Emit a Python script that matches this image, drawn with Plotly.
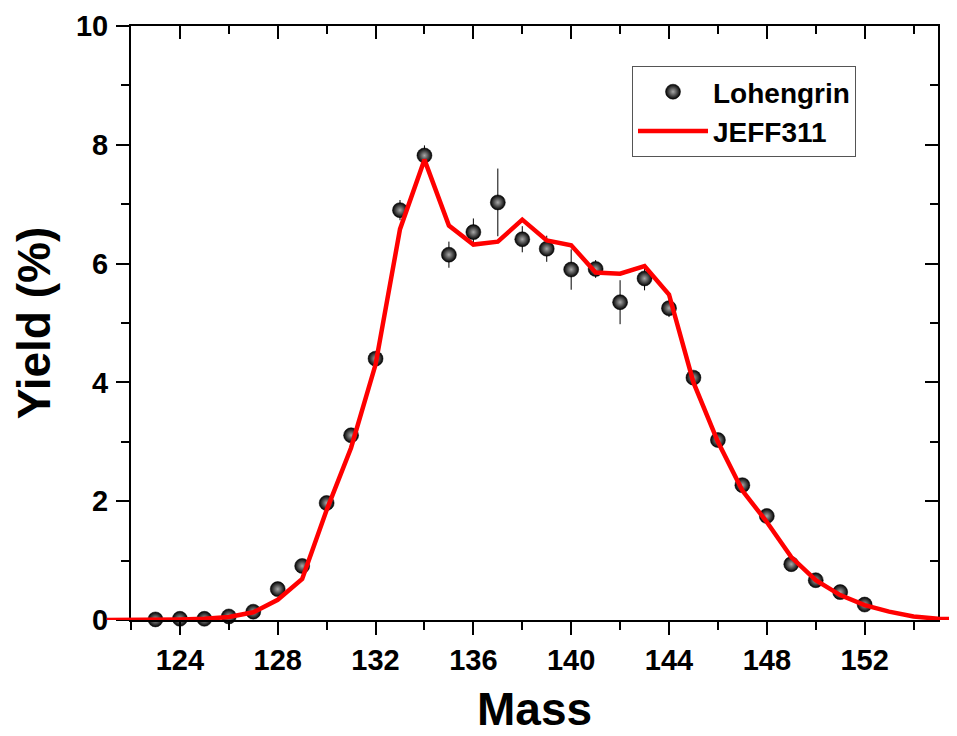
import plotly.graph_objects as go

# Lohengrin measured yields
mass_exp = list(range(123, 153))
yield_exp = [0.01, 0.02, 0.02, 0.06, 0.14, 0.52, 0.91, 1.97, 3.11, 4.40,
             6.90, 7.82, 6.15, 6.53, 7.03, 6.41, 6.25, 5.90, 5.91, 5.35,
             5.75, 5.25, 4.08, 3.03, 2.27, 1.75, 0.94, 0.67, 0.47, 0.26]
err_exp = [0.01, 0.01, 0.01, 0.01, 0.02, 0.05, 0.06, 0.10, 0.10, 0.12,
           0.17, 0.17, 0.22, 0.23, 0.57, 0.22, 0.22, 0.34, 0.15, 0.37,
           0.20, 0.15, 0.10, 0.08, 0.07, 0.06, 0.05, 0.04, 0.03, 0.03]

# JEFF311 evaluated yields
mass_jeff = list(range(121, 157))
yield_jeff = [0.0, 0.0, 0.005, 0.01, 0.02, 0.05, 0.13, 0.34, 0.69, 1.85,
              2.90, 4.30, 6.58, 7.75, 6.64, 6.32, 6.37, 6.74, 6.39, 6.31,
              5.85, 5.83, 5.96, 5.48, 4.00, 3.00, 2.18, 1.65, 1.06, 0.67,
              0.42, 0.25, 0.14, 0.06, 0.02, 0.01]

x_ticks = [124, 128, 132, 136, 140, 144, 148, 152]
y_ticks = [0, 2, 4, 6, 8, 10]

OFF = 8  # page body margin
W, H = 957 - OFF, 736 - OFF
ML, MR = 100 - OFF, 0
MT = 26 - OFF
MB = 736 - 620
plot_w = W - ML - MR
plot_h = H - MT - MB
spine_l, spine_r = 131 - OFF, 938 - OFF
x0, x1 = 122, 155
ppu = (spine_r - spine_l) / (x1 - x0)
dom = [(spine_l - ML) / plot_w, (spine_r - ML) / plot_w]
x3_range = [x0 - (spine_l - ML) / ppu, x1 + (W - MR - spine_r) / ppu]

FONT = "Arial, 'Liberation Sans', sans-serif"

fig = go.Figure()
fig.add_trace(go.Scatter(
    x=mass_exp, y=yield_exp, mode="markers", name="Lohengrin",
    error_y=dict(type="data", array=err_exp, visible=True, color="black",
                 thickness=1, width=0),
    marker=dict(size=15, color="black",
                gradient=dict(type="radial", color="#a8a8a8"),
                line=dict(width=0.5, color="black")),
    xaxis="x", yaxis="y", cliponaxis=False,
))
# invisible copy so the mirrored (top/right) axes get drawn
fig.add_trace(go.Scatter(
    x=mass_exp, y=yield_exp, mode="markers", showlegend=False,
    marker=dict(opacity=0), hoverinfo="skip",
    xaxis="x2", yaxis="y2",
))
fig.add_trace(go.Scatter(
    x=mass_jeff, y=yield_jeff, mode="lines", name="JEFF311",
    line=dict(color="#ff0000", width=4.5),
    xaxis="x3", yaxis="y3",
))

tick_common = dict(tickcolor="black", tickwidth=2, linecolor="black",
                   linewidth=2, showline=True, showgrid=False, zeroline=False)

fig.update_layout(
    width=W, height=H,
    margin=dict(l=ML, r=MR, t=MT, b=MB),
    paper_bgcolor="white", plot_bgcolor="rgba(0,0,0,0)",
    font=dict(family=FONT, color="black"),
    xaxis=dict(domain=dom, range=[x0, x1], tickvals=x_ticks,
               ticks="outside", ticklen=13,
               minor=dict(dtick=2, tick0=0, ticks="outside", ticklen=8,
                          tickwidth=2, tickcolor="black"),
               tickfont=dict(size=29, family=FONT, weight="bold"),
               ticklabelstandoff=0,
               anchor="y", automargin=False, **tick_common),
    xaxis2=dict(domain=dom, range=[x0, x1], overlaying="x", side="top",
                anchor="y2", tickvals=x_ticks, ticks="inside", ticklen=13,
                minor=dict(dtick=2, tick0=0, ticks="inside", ticklen=8,
                           tickwidth=2, tickcolor="black"),
                showticklabels=False, automargin=False, **tick_common),
    yaxis=dict(range=[0, 10], tickvals=y_ticks, ticks="outside", ticklen=13,
               minor=dict(dtick=1, tick0=0, ticks="outside", ticklen=8,
                          tickwidth=2, tickcolor="black"),
               tickfont=dict(size=29, family=FONT, weight="bold"),
               ticklabelstandoff=2,
               title=dict(text="<b>Yield (%)</b>", font=dict(size=46, family=FONT),
                          standoff=11),
               anchor="x", automargin=False, **tick_common),
    yaxis2=dict(range=[0, 10], overlaying="y", side="right", anchor="x2",
                tickvals=y_ticks, ticks="inside", ticklen=13,
                minor=dict(dtick=1, tick0=0, ticks="inside", ticklen=8,
                           tickwidth=2, tickcolor="black"),
                showticklabels=False, automargin=False, **tick_common),
    xaxis3=dict(domain=[0, 1], range=x3_range, visible=False, anchor="y3"),
    yaxis3=dict(domain=[0, 1], range=[0, 10], visible=False, anchor="x3"),
    showlegend=True,
    legend=dict(x=(632 - 100) / plot_w, y=(620 - 66) / plot_h,
                xanchor="left", yanchor="top",
                bgcolor="white", bordercolor="#555", borderwidth=1,
                font=dict(size=28, family=FONT, weight="bold"),
                itemwidth=70, tracegroupgap=0),
    annotations=[dict(text="<b>Mass</b>", xref="paper", yref="paper",
                      x=(dom[0] + dom[1]) / 2, y=-MB / plot_h,
                      xanchor="center", yanchor="bottom", showarrow=False,
                      borderpad=0,
                      font=dict(size=46, family=FONT, color="black"))],
)

fig.write_html("out.html")
